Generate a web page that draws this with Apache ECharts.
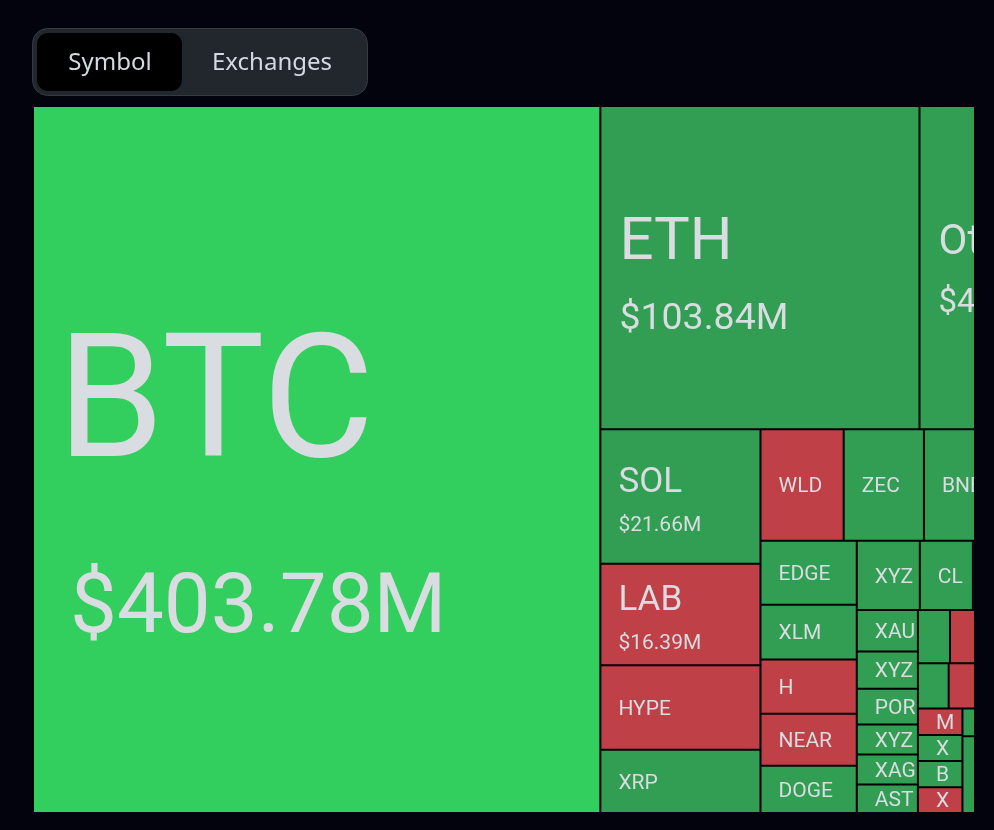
<!DOCTYPE html>
<html>
<head>
<meta charset="utf-8">
<script src="https://cdn.jsdelivr.net/npm/echarts@6/dist/echarts.min.js"></script>
<style>
html, body { margin: 0; background: #02030d; }
#chart { position: absolute; left: 0; top: 0; width: 974px; height: 812px; }
</style>
</head>
<body>
<div id="chart"></div>
<script>
const tabLabels = ['Symbol', 'Exchanges'];

// 右侧被裁掉的格子看不到，数值是估的
const symbols = [
    'BTC', 'ETH', 'Others', 'SOL', 'LAB', 'HYPE', 'XRP', 'WLD', 'ZEC', 'BNB', 'TON',
    'EDGE', 'XLM', 'H', 'NEAR', 'DOGE',
    'XYZ:NVDA', 'CL', 'PAXG', 'ZRO',
    'XAUT', 'XYZ:TSLA', 'PORTAL', 'XYZ:GOLD', 'XAG', 'ASTER',
    'SUI', 'XMR', 'ADA', 'LINK', 'AAVE',
    'ENA', 'VIRTUAL', 'PUMP', 'AVAX', 'ARB',
    'MUSK', 'XYZ:AMD', 'BSV', 'XYZ:MU',
    'OP', 'TAO', 'LTC', 'APT',
    'Rest'
];
const volumes = [
    403.78, 103.84, 47.83, 21.66, 16.39, 13.6, 10.2, 9.33, 9.0, 8.4, 7.59,
    6.22, 5.3, 5.25, 5.05, 4.57,
    4.4, 3.7, 3.5, 3.03,
    2.55, 2.29, 2.2, 1.85, 1.85, 1.75,
    1.72, 1.78, 1.6, 1.5, 1.366,
    1.4, 1.46, 1.36, 1.3, 1.241,
    1.19, 1.17, 1.17, 1.16,
    1.16, 0.6, 0.6, 0.56,
    8.03
];
const tones = [
    'strong', 'up', 'up', 'up', 'down', 'down', 'up', 'down', 'up', 'up', 'up',
    'up', 'up', 'down', 'down', 'up',
    'up', 'up', 'up', 'up',
    'up', 'up', 'up', 'up', 'up', 'up',
    'up', 'down', 'up', 'up', 'up',
    'up', 'down', 'up', 'up', 'up',
    'down', 'up', 'up', 'down',
    'up', 'up', 'down', 'up',
    'up'
];
const toneColors = { strong: '#33cf5e', up: '#319e53', down: '#bf4046' };

// 字号按成交额分档
function tier(value) {
    if (value >= 200) return 'a';
    if (value >= 80) return 'b';
    if (value >= 30) return 'c';
    if (value >= 16) return 'd';
    if (value >= 1.25) return 'e';
    return 'f';
}

const textColor = '#d9dce1';
const labelFont = 'Roboto';
// 每档文字块的总高度，treemap 的 label 默认贴顶，靠它算垂直居中
const blockHeights = { a: 396, b: 152, c: 120, d: 85, e: 16, f: 16 };

const chart = echarts.init(document.getElementById('chart'));
chart.setOption({
    backgroundColor: '#02030d',
    animation: false,
    graphic: [
        { type: 'rect', shape: { x: 32.5, y: 28.5, width: 335, height: 67, r: 15 }, style: { fill: '#22272e', stroke: '#363b42', lineWidth: 1 } },
        { type: 'rect', shape: { x: 37, y: 33, width: 145, height: 58, r: 11 }, style: { fill: '#000000' } },
        { type: 'text', x: 110, y: 63, style: { text: tabLabels[0], fill: '#d5d9e2', font: '24px "Noto Sans"', textAlign: 'center', textVerticalAlign: 'middle' } },
        { type: 'text', x: 272, y: 63, style: { text: tabLabels[1], fill: '#d5d9e2', font: '24px "Noto Sans"', textAlign: 'center', textVerticalAlign: 'middle' } }
    ],
    series: [{
        type: 'treemap',
        left: 32,
        top: 105,
        width: 1035.5,
        height: 709,
        sort: false,
        roam: false,
        nodeClick: false,
        breadcrumb: { show: false },
        visibleMin: 0,
        itemStyle: { borderColor: '#000', borderWidth: 1, gapWidth: 0 },
        labelLayout(params) {
            const t = params.text.charAt(1);
            return { dy: (params.rect.height - blockHeights[t]) / 2 };
        },
        label: {
            show: true,
            position: 'insideLeft',
            padding: [0, 0, 0, 16],
            overflow: 'truncate',
            ellipsis: '',
            fontFamily: labelFont,
            color: textColor,
            formatter(p) {
                const t = tier(p.value);
                if (t === 'e' || t === 'f') return '{' + t + '|' + p.name + '}';
                return '{' + t + '|' + p.name + '}\n{' + t + 's|$' + p.value.toFixed(2) + 'M}';
            },
            rich: {
                a: { fontFamily: labelFont, color: textColor, fontSize: 172, lineHeight: 303, padding: [0, 0, 0, 7] },
                as: { fontFamily: labelFont, color: textColor, fontSize: 83.5, lineHeight: 93, padding: [0, 0, 0, 20] },
                b: { fontFamily: labelFont, color: textColor, fontSize: 60, lineHeight: 104, padding: [0, 0, 0, 2] },
                bs: { fontFamily: labelFont, color: textColor, fontSize: 37.5, lineHeight: 48, padding: [0, 0, 0, 2] },
                c: { fontFamily: labelFont, color: textColor, fontSize: 42, lineHeight: 72, padding: [0, 0, 0, 2] },
                cs: { fontFamily: labelFont, color: textColor, fontSize: 33, lineHeight: 48, padding: [0, 0, 0, 2] },
                d: { fontFamily: labelFont, color: textColor, fontSize: 35, lineHeight: 58, padding: [0, 0, 0, 1] },
                ds: { fontFamily: labelFont, color: textColor, fontSize: 21, lineHeight: 27, padding: [0, 0, 0, 1] },
                e: { fontFamily: labelFont, color: textColor, fontSize: 21, lineHeight: 20, padding: [0, 0, 0, 1] },
                f: { fontFamily: labelFont, color: textColor, fontSize: 21, lineHeight: 20, padding: [0, 0, 0, 7] }
            }
        },
        data: symbols.map((name, i) => ({
            name,
            value: volumes[i],
            itemStyle: { color: toneColors[tones[i]] },
            // 最窄的一列左边距收一点，不然 MU 放不下
            label: tier(volumes[i]) === 'f' ? { padding: [0, 0, 0, 10] } : {}
        }))
    }]
});
</script>
</body>
</html>
